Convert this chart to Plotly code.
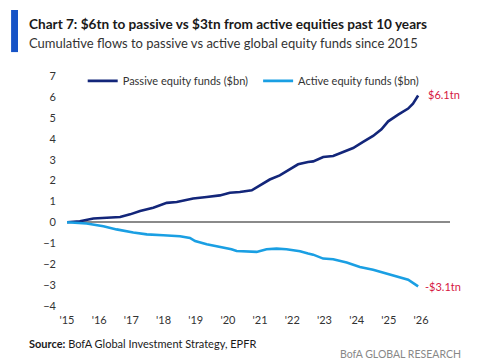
import plotly.graph_objects as go

# Data (year as decimal, cumulative flows $tn)
passive_x = [2015.0, 2015.40, 2015.82, 2016.34, 2016.65, 2016.96, 2017.27, 2017.68, 2018.10, 2018.41,
             2018.77, 2018.92, 2019.34, 2019.75, 2020.06, 2020.37, 2020.74, 2020.99, 2021.30, 2021.61,
             2021.93, 2022.18, 2022.49, 2022.65, 2022.96, 2023.27, 2023.58, 2023.89, 2024.20, 2024.51,
             2024.77, 2024.98, 2025.29, 2025.60, 2025.75, 2025.91]
passive_y = [0.0, 0.05, 0.18, 0.21, 0.25, 0.38, 0.54, 0.70, 0.93, 0.97,
             1.10, 1.14, 1.21, 1.29, 1.42, 1.45, 1.53, 1.77, 2.05, 2.25,
             2.57, 2.78, 2.89, 2.92, 3.13, 3.18, 3.37, 3.56, 3.85, 4.14,
             4.46, 4.84, 5.16, 5.45, 5.69, 6.08]

active_x = [2015.0, 2015.61, 2016.13, 2016.54, 2017.06, 2017.48, 2017.99, 2018.30, 2018.51, 2018.82,
            2018.98, 2019.34, 2019.75, 2020.11, 2020.27, 2020.68, 2020.89, 2021.20, 2021.51, 2021.82,
            2022.08, 2022.24, 2022.49, 2022.65, 2022.96, 2023.27, 2023.69, 2024.10, 2024.51, 2024.93,
            2025.34, 2025.60, 2025.91]
active_y = [0.0, -0.06, -0.19, -0.34, -0.49, -0.58, -0.62, -0.64, -0.67, -0.75,
            -0.90, -1.05, -1.18, -1.29, -1.38, -1.42, -1.42, -1.29, -1.26, -1.29,
            -1.34, -1.39, -1.50, -1.55, -1.74, -1.77, -1.93, -2.14, -2.27, -2.46,
            -2.62, -2.75, -3.07]

series_names = ["Passive equity funds ($bn)", "Active equity funds ($bn)"]
end_labels = ["$6.1tn", "-$3.1tn"]
x_tick_vals = list(range(2015, 2027))
x_tick_text = ["'15", "'16", "'17", "'18", "'19", "'20", "'21", "'22", "'23", "'24", "'25", "'26"]
y_tick_vals = [-4, -3, -2, -1, 0, 1, 2, 3, 4, 5, 6, 7]

NAVY = "#13267a"
SKY = "#1a9fe3"
RED = "#d6173f"
FONT = "Lato"

fig = go.Figure()
fig.add_trace(go.Scatter(x=passive_x, y=passive_y, mode="lines", name=series_names[0],
                         line=dict(color=NAVY, width=2.6), legend="legend"))
fig.add_trace(go.Scatter(x=active_x, y=active_y, mode="lines", name=series_names[1],
                         line=dict(color=SKY, width=2.6), legend="legend2"))

fig.add_annotation(x=passive_x[-1], y=passive_y[-1], text=end_labels[0], showarrow=False,
                   xanchor="left", yanchor="middle", xshift=8, yshift=1,
                   font=dict(color=RED, size=11, family=FONT))
fig.add_annotation(x=active_x[-1], y=active_y[-1], text=end_labels[1], showarrow=False,
                   xanchor="left", yanchor="middle", xshift=5,
                   font=dict(color=RED, size=11, family=FONT))

# Title bar and titles
fig.add_shape(type="rect", xref="paper", yref="paper", x0=-0.146, x1=-0.128, y0=1.074, y1=1.248,
              fillcolor="#1653c7", line=dict(width=0))
fig.add_annotation(xref="paper", yref="paper", x=-0.104, y=1.19, xanchor="left", yanchor="middle",
                   text="<b>Chart 7: $6tn to passive vs $3tn from active equities past 10 years</b>",
                   showarrow=False, font=dict(size=13.6, color="#1a1a1a", family=FONT))
fig.add_annotation(xref="paper", yref="paper", x=-0.104, y=1.112, xanchor="left", yanchor="middle",
                   text="Cumulative flows to passive vs active global equity funds since 2015",
                   showarrow=False, font=dict(size=13, color="#333333", family=FONT))
fig.add_annotation(xref="paper", yref="paper", x=-0.104, y=-0.132, xanchor="left", yanchor="middle",
                   text="<b>Source:</b> BofA Global Investment Strategy, EPFR",
                   showarrow=False, font=dict(size=11, color="#1a1a1a", family=FONT))
fig.add_annotation(xref="paper", yref="paper", x=1.034, y=-0.172, xanchor="right", yanchor="middle",
                   text="BofA GLOBAL RESEARCH",
                   showarrow=False, font=dict(size=10.5, color="#888888", family=FONT))

legend_common = dict(orientation="h", yanchor="middle", bgcolor="rgba(0,0,0,0)",
                     font=dict(size=11, color="#333333", family=FONT), itemwidth=30)

fig.update_layout(
    width=485, height=360,
    margin=dict(l=59, r=43, t=62, b=56, autoexpand=False),
    paper_bgcolor="white", plot_bgcolor="white",
    font=dict(family=FONT, size=11, color="#333333"),
    showlegend=True,
    legend=dict(x=0.041, y=0.955, xanchor="left", **legend_common),
    legend2=dict(x=0.499, y=0.955, xanchor="left", **legend_common),
    xaxis=dict(range=[2015, 2026.9], tickvals=x_tick_vals, ticktext=x_tick_text,
               showgrid=False, zeroline=False, showline=False, ticks="",
               tickfont=dict(size=11, color="#333333")),
    yaxis=dict(range=[-4.3, 7.3], tickvals=y_tick_vals, showgrid=False,
               zeroline=True, zerolinecolor="#8a8a8a", zerolinewidth=1.5,
               showline=False, ticks="", ticklabelstandoff=10,
               tickfont=dict(size=11, color="#333333")),
)

fig.write_html("out.html")
